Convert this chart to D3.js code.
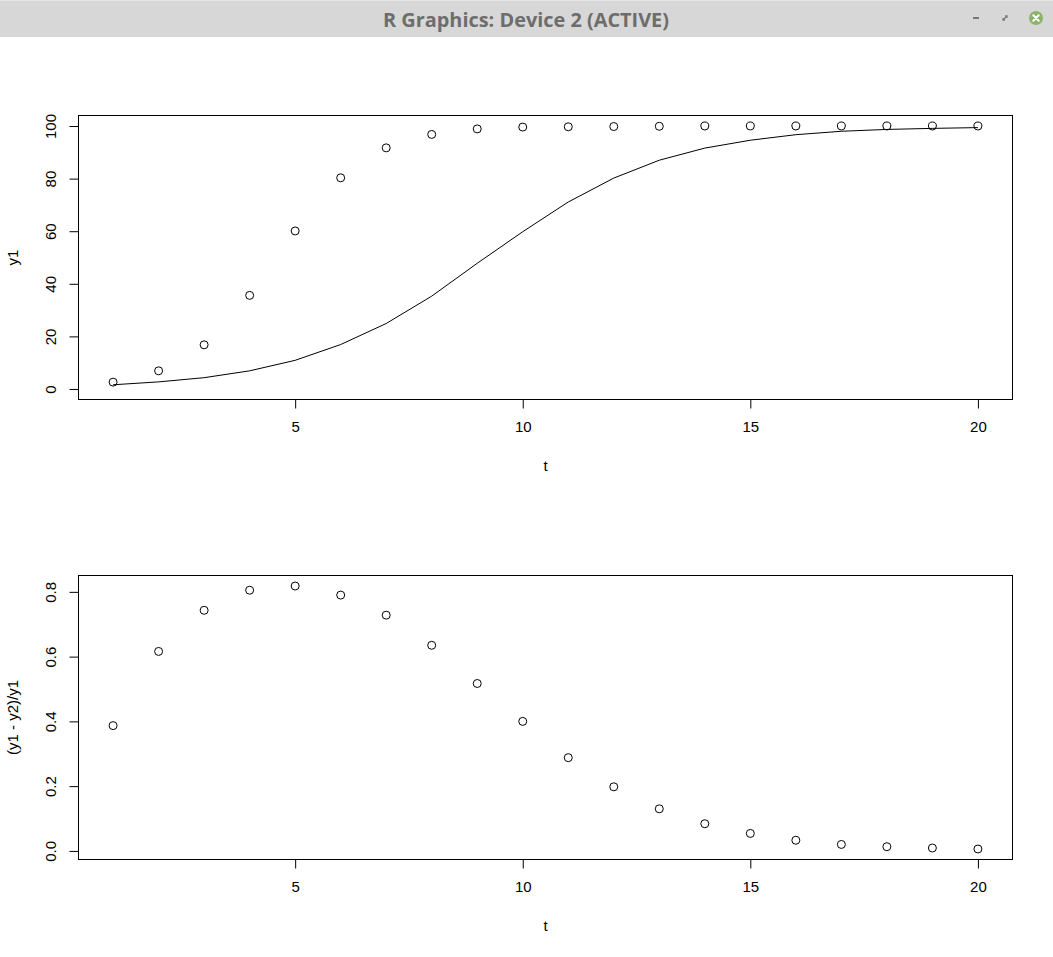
<!DOCTYPE html>
<html>
<head>
<meta charset="utf-8">
<script src="https://cdn.jsdelivr.net/npm/d3@7"></script>
<style>
  html, body { margin: 0; padding: 0; background: #ffffff; }
  svg { display: block; }
</style>
</head>
<body>
<script>
// ---- data ----
const t = [1, 2, 3, 4, 5, 6, 7, 8, 9, 10, 11, 12, 13, 14, 15, 16, 17, 18, 19, 20];
const y1 = [2.6, 6.9, 16.8, 35.6, 60.1, 80.3, 91.7, 96.8, 98.9, 99.6, 99.7, 99.8, 99.9, 100, 100, 100, 100, 100, 100, 100];
const y2 = [1.6, 2.7, 4.3, 6.9, 10.9, 16.9, 24.9, 35.3, 47.8, 59.8, 71.1, 80.2, 87.0, 91.6, 94.6, 96.7, 98.0, 98.7, 99.1, 99.4];
const ratio = [0.387, 0.616, 0.743, 0.805, 0.818, 0.790, 0.728, 0.635, 0.517, 0.400, 0.288, 0.198, 0.130, 0.084, 0.054, 0.033, 0.020, 0.013, 0.009, 0.006];
const xTicks = [5, 10, 15, 20];
const yTicksTop = [0, 20, 40, 60, 80, 100];
const yTicksBottom = [0, 0.2, 0.4, 0.6, 0.8];
const windowTitle = "R Graphics: Device 2 (ACTIVE)";

const W = 1053, H = 957;
const FONT = "'Liberation Sans', Arial, sans-serif";
const svg = d3.select("body").append("svg").attr("width", W).attr("height", H);

// ---- window title bar ----
svg.append("rect").attr("x", 0).attr("y", 0).attr("width", W).attr("height", 37).attr("fill", "#d7d7d7");
svg.append("rect").attr("x", 0).attr("y", 0).attr("width", W).attr("height", 1).attr("fill", "#e6e6e6");
svg.append("text").attr("x", 526).attr("y", 27)
  .attr("text-anchor", "middle")
  .attr("font-family", "'Open Sans', 'Noto Sans', sans-serif")
  .attr("font-weight", "bold").attr("font-size", 19)
  .attr("fill", "#6d6d6d")
  .attr("textLength", 286).attr("lengthAdjust", "spacingAndGlyphs")
  .text(windowTitle);
// minimize
svg.append("rect").attr("x", 973).attr("y", 17).attr("width", 6).attr("height", 2).attr("fill", "#7a7a7a");
// restore
svg.append("path").attr("d", "M1003,20 L1006,17 M1005,20 L1003,20 L1003,18 M1005,16 L1007,16 L1007,18")
  .attr("stroke", "#7a7a7a").attr("stroke-width", 1.3).attr("fill", "none");
// close
svg.append("circle").attr("cx", 1036).attr("cy", 18).attr("r", 7).attr("fill", "#8cb369");
svg.append("path").attr("d", "M1033.3,15.3 L1038.7,20.7 M1038.7,15.3 L1033.3,20.7")
  .attr("stroke", "#ffffff").attr("stroke-width", 2).attr("stroke-linecap", "round");

// ---- plot helpers ----
const left = 78.5, right = 1012.5;
const x = d3.scaleLinear().domain([0.24, 20.76]).range([left, right]);

function panel(top, bottom, yDomain, yTicks, yFmt, yTitle) {
  const y = d3.scaleLinear().domain(yDomain).range([bottom, top]);
  const g = svg.append("g");

  // x axis
  const ax = g.append("g").attr("transform", `translate(0,${bottom})`)
    .call(d3.axisBottom(x).tickValues(xTicks).tickSize(9).tickPadding(13.3).tickFormat(d3.format("d")));
  ax.select(".domain").remove();
  ax.append("line").attr("x1", x(xTicks[0])).attr("x2", x(xTicks[xTicks.length - 1]))
    .attr("y1", 0).attr("y2", 0).attr("stroke", "#000");
  ax.selectAll("text").attr("font-family", FONT).attr("font-size", 15).attr("fill", "#000");
  ax.selectAll("line").attr("stroke", "#000");

  // y axis
  const ay = g.append("g").attr("transform", `translate(${left},0)`)
    .call(d3.axisLeft(y).tickValues(yTicks).tickSize(9).tickFormat(yFmt));
  ay.select(".domain").remove();
  ay.append("line").attr("x1", 0).attr("x2", 0)
    .attr("y1", y(yTicks[0])).attr("y2", y(yTicks[yTicks.length - 1])).attr("stroke", "#000");
  ay.selectAll(".tick text")
    .attr("x", null).attr("dy", null).attr("y", null)
    .attr("transform", "translate(-22.5,0) rotate(-90)")
    .attr("text-anchor", "middle")
    .attr("font-family", FONT).attr("font-size", 15).attr("fill", "#000");
  ay.selectAll("line").attr("stroke", "#000");

  // box
  g.append("rect").attr("x", left).attr("y", top).attr("width", right - left).attr("height", bottom - top)
    .attr("fill", "none").attr("stroke", "#000").attr("stroke-width", 1);

  // axis titles
  g.append("text").attr("x", (left + right) / 2).attr("y", bottom + 71.5)
    .attr("text-anchor", "middle").attr("font-family", FONT).attr("font-size", 15).text("t");
  g.append("text").attr("transform", `translate(18,${(top + bottom) / 2}) rotate(-90)`)
    .attr("text-anchor", "middle").attr("font-family", FONT).attr("font-size", 15).text(yTitle);

  return { g, y };
}

// ---- top panel ----
const p1 = panel(115.5, 399.5, [-4, 104], yTicksTop, d3.format("d"), "y1");
p1.g.append("g").selectAll("circle").data(t).join("circle")
  .attr("cx", (d) => x(d)).attr("cy", (d, i) => p1.y(y1[i])).attr("r", 4)
  .attr("fill", "none").attr("stroke", "#000").attr("stroke-width", 1);
p1.g.append("path")
  .datum(t)
  .attr("d", d3.line().x((d) => x(d)).y((d, i) => p1.y(y2[i])))
  .attr("fill", "none").attr("stroke", "#000").attr("stroke-width", 1);

// ---- bottom panel ----
const ext = d3.extent(ratio);
const pad = (ext[1] - ext[0]) * 0.04;
const p2 = panel(575.5, 859.5, [ext[0] - pad, ext[1] + pad], yTicksBottom, d3.format(".1f"), "(y1 - y2)/y1");
p2.g.append("g").selectAll("circle").data(t).join("circle")
  .attr("cx", (d) => x(d)).attr("cy", (d, i) => p2.y(ratio[i])).attr("r", 4)
  .attr("fill", "none").attr("stroke", "#000").attr("stroke-width", 1);
</script>
</body>
</html>
